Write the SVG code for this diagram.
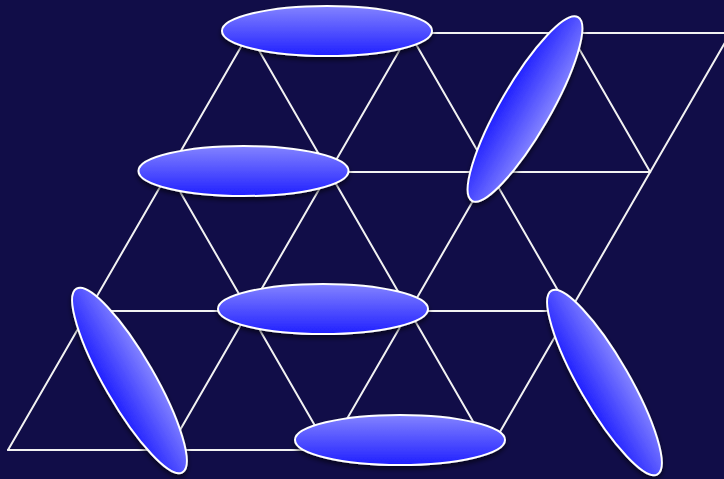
<svg xmlns="http://www.w3.org/2000/svg" width="724" height="479" viewBox="0 0 724 479">
<defs>
<linearGradient id="gr" x1="0" y1="0" x2="0" y2="1">
<stop offset="0" stop-color="#8383ff"/>
<stop offset="1" stop-color="#2020ff"/>
</linearGradient>
<filter id="sh" x="-20%" y="-20%" width="140%" height="140%">
<feDropShadow dx="0" dy="3" stdDeviation="2.5" flood-color="#000" flood-opacity="0.6"/>
</filter>
<style>
.ln{stroke:#f2f2f2;stroke-width:2;fill:none;stroke-linecap:round}
.el{fill:url(#gr);stroke:#ffffff;stroke-width:2}
</style>
</defs>
<rect width="724" height="479" fill="#110d48"/>
<g id="connectors" class="ln">
<line x1="249" y1="33" x2="730.5" y2="33"/>
<line x1="168.67" y1="172" x2="650.17" y2="172"/>
<line x1="88.33" y1="311" x2="569.83" y2="311"/>
<line x1="8" y1="450" x2="489.5" y2="450"/>
<line x1="8" y1="450" x2="249" y2="33"/>
<line x1="168.5" y1="450" x2="409.5" y2="33"/>
<line x1="329" y1="450" x2="570" y2="33"/>
<line x1="489.5" y1="450" x2="730.5" y2="33"/>
<line x1="249" y1="33" x2="489.5" y2="450"/>
<line x1="409.5" y1="33" x2="569.83" y2="311"/>
<line x1="570" y1="33" x2="650.17" y2="172"/>
<line x1="168.67" y1="172" x2="329" y2="450"/>
<line x1="88.33" y1="311" x2="168.5" y2="450"/>
</g>
<g id="dimer1" filter="url(#sh)"><ellipse class="el" cx="327" cy="31" rx="105" ry="25"/></g>
<g id="dimer2" filter="url(#sh)"><ellipse class="el" cx="243.5" cy="171" rx="105" ry="25"/></g>
<g id="dimer3" filter="url(#sh)"><ellipse class="el" cx="323" cy="309" rx="105" ry="25"/></g>
<g id="dimer4" filter="url(#sh)"><ellipse class="el" cx="400" cy="440" rx="105" ry="25"/></g>
<g id="dimer5" filter="url(#sh)"><ellipse class="el" cx="0" cy="0" rx="106" ry="25" transform="translate(525,109) rotate(120)"/></g>
<g id="dimer6" filter="url(#sh)"><ellipse class="el" cx="0" cy="0" rx="106" ry="25" transform="translate(129.5,380.5) rotate(60)"/></g>
<g id="dimer7" filter="url(#sh)"><ellipse class="el" cx="0" cy="0" rx="106" ry="25" transform="translate(604.5,382.5) rotate(60)"/></g>
</svg>
